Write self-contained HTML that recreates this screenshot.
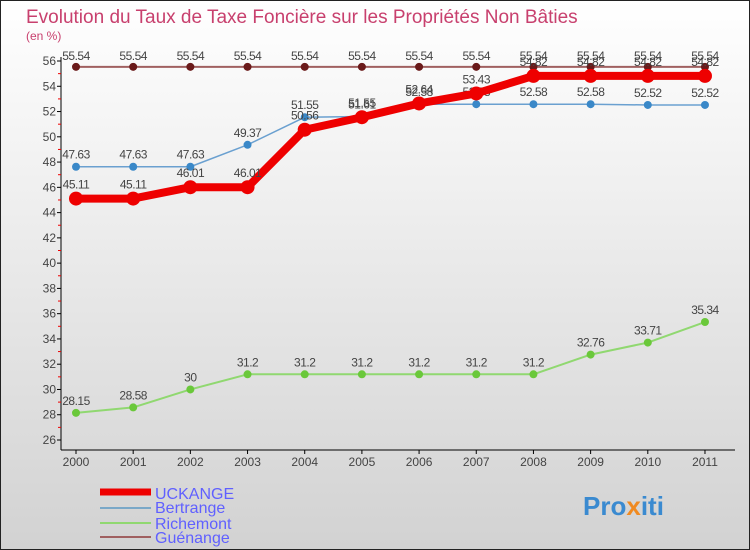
<!DOCTYPE html>
<html><head><meta charset="utf-8"><style>
body{margin:0}
#c{width:750px;height:550px;position:relative;overflow:hidden}
text{font-family:"Liberation Sans",sans-serif}
</style></head><body>
<div id="c">
<svg id="s" width="750" height="550" xmlns="http://www.w3.org/2000/svg">
<defs><linearGradient id="bg" x1="0" y1="0" x2="0" y2="1"><stop offset="0" stop-color="#ffffff"/><stop offset="1" stop-color="#d2d2d2"/></linearGradient></defs>
<rect x="0.5" y="0.5" width="749" height="549" fill="url(#bg)" stroke="#222"/>
<text x="26" y="23" font-size="19" fill="#c8406e">Evolution du Taux de Taxe Foncière sur les Propriétés Non Bâties</text>
<text x="26" y="40" font-size="12" fill="#c8406e">(en %)</text>
<g id="axes"></g><g id="series"></g>
<g>
<line x1="100" y1="492" x2="151" y2="492" stroke="#ee0000" stroke-width="7"/>
<text x="155" y="499" font-size="16" fill="#6060ff">UCKANGE</text>
<line x1="100" y1="508" x2="151" y2="508" stroke="#7aa8c8" stroke-width="2"/>
<text x="155" y="513" font-size="16" fill="#6060ff">Bertrange</text>
<line x1="100" y1="523" x2="151" y2="523" stroke="#90d870" stroke-width="2"/>
<text x="155" y="529" font-size="16" fill="#6060ff">Richemont</text>
<line x1="100" y1="537" x2="151" y2="537" stroke="#a06060" stroke-width="2"/>
<text x="155" y="543" font-size="16" fill="#6060ff">Guénange</text>
</g>
<g><text x="583" y="515" font-size="26" font-weight="bold" fill="#3a8ad0">Pro<tspan fill="#f08a20">x</tspan>iti</text></g>
</svg></div>
<script>
const years=[2000,2001,2002,2003,2004,2005,2006,2007,2008,2009,2010,2011];
const yTicks=[26,28,30,32,34,36,38,40,42,44,46,48,50,52,54,56];
const uckange=[45.11,45.11,46.01,46.01,50.56,51.55,52.64,53.43,54.82,54.82,54.82,54.82];
const bertrange=[47.63,47.63,47.63,49.37,51.55,51.61,52.58,52.58,52.58,52.58,52.52,52.52];
const richemont=[28.15,28.58,30,31.2,31.2,31.2,31.2,31.2,31.2,32.76,33.71,35.34];
const guenange=[55.54,55.54,55.54,55.54,55.54,55.54,55.54,55.54,55.54,55.54,55.54,55.54];
const NS="http://www.w3.org/2000/svg";
const X=i=>76+i*57.18, Y=v=>440-(v-26)*12.633;
function mk(t,a,p){const e=document.createElementNS(NS,t);for(const k in a)e.setAttribute(k,a[k]);p.appendChild(e);return e;}
const ax=document.getElementById('axes');
let e=mk('line',{x1:61,y1:57,x2:61,y2:450,stroke:'#000'},ax);


e=mk('line',{x1:61,y1:450,x2:735,y2:450,stroke:'#000'},ax);


yTicks.forEach(v=>{
 mk('line',{x1:57,x2:61,y1:Y(v),y2:Y(v),stroke:'#000'},ax);
 if(v<56)mk('line',{x1:58,x2:61,y1:Y(v+1),y2:Y(v+1),stroke:'#e00'},ax);
 const t=mk('text',{x:56,y:Y(v)+4,'font-size':12,fill:'#444','text-anchor':'end'},ax);t.textContent=v;
 
 
});
years.forEach((y,i)=>{
 mk('line',{x1:X(i),x2:X(i),y1:450,y2:454,stroke:'#000'},ax);
 const t=mk('text',{x:X(i),y:466,'font-size':12,fill:'#444','text-anchor':'middle'},ax);t.textContent=y;
 
 
});
const sg=document.getElementById('series');
function series(name,vals,color,w,r,dot,lblDy){
 const g=mk('g',{},sg);
 
 
 mk('polyline',{points:vals.map((v,i)=>X(i)+','+Y(v)).join(' '),fill:'none',stroke:color,'stroke-width':w,'stroke-linejoin':'round'},g);
 vals.forEach((v,i)=>{
  const c=mk('circle',{cx:X(i),cy:Y(v),r:r,fill:dot},g);
  
  
  const t=mk('text',{x:X(i),y:Y(v)+lblDy,'font-size':12,fill:'#444','text-anchor':'middle','letter-spacing':'-0.5'},g);t.textContent=v;
  
  
 });
}
series('guenange',guenange,'#a06060',2,4,'#6a1a1a',-7);
series('richemont',richemont,'#90d870',2,4,'#6ac83a',-8);
series('bertrange',bertrange,'#6aa0d0',1.5,4,'#3a88c8',-8);
series('uckange',uckange,'#ee0000',8,7,'#ee0000',-10);
</script>
</body></html>
